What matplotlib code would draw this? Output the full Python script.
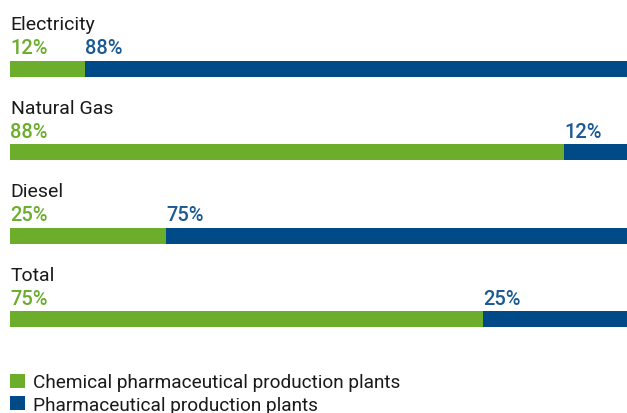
import matplotlib
matplotlib.use("Agg")
import matplotlib.pyplot as plt
from matplotlib.patches import Patch

categories = ["Electricity", "Natural Gas", "Diesel", "Total"]
chem_share = [12.2, 89.8, 25.3, 76.7]
pharma_share = [87.8, 10.2, 74.7, 23.3]
chem_labels = ["12%", "88%", "25%", "75%"]
pharma_labels = ["88%", "12%", "75%", "25%"]
series_names = ["Chemical pharmaceutical production plants", "Pharmaceutical production plants"]

GREEN = "#6cad2c"
BLUE = "#004b87"
BLUE_TXT = "#1b5a93"

plt.rcParams['font.family'] = ['Roboto', 'DejaVu Sans']

W, H = 627, 414
fig = plt.figure(figsize=(W/100, H/100), dpi=100)
ax = fig.add_axes([10/W, 0, 617/W, 1])
spacing = 83.4
ax.set_xlim(0, 100)
ax.set_ylim((H-70)/spacing, -70/spacing)
ax.axis('off')

ys = list(range(len(categories)))
bh = 16/spacing
ax.barh(ys, chem_share, height=bh, color=GREEN, linewidth=0)
ax.barh(ys, pharma_share, left=chem_share, height=bh, color=BLUE, linewidth=0)

for i, cat in enumerate(categories):
    ax.text(0.1, i - 39.5/spacing, cat, ha='left', va='baseline', fontsize=14, color='#1a1a1a')
    ax.text(0, i - 15.5/spacing, chem_labels[i], ha='left', va='baseline', fontsize=14.5,
            color=GREEN, fontweight='medium')
    ax.text(chem_share[i], i - 15.5/spacing, pharma_labels[i], ha='left', va='baseline', fontsize=14.5,
            color=BLUE_TXT, fontweight='medium')

handles = [Patch(facecolor=GREEN, edgecolor='none'), Patch(facecolor=BLUE, edgecolor='none')]
leg = fig.legend(handles, series_names, loc='upper left', bbox_to_anchor=(10/W, 1 - 374.5/H),
                 frameon=False, fontsize=13.7, handlelength=0.78, handleheight=0.78,
                 handletextpad=0.42, labelspacing=0.22, borderpad=0, borderaxespad=0)
for t in leg.get_texts():
    t.set_color('#1a1a1a')

fig.savefig("out.png", dpi=100)
